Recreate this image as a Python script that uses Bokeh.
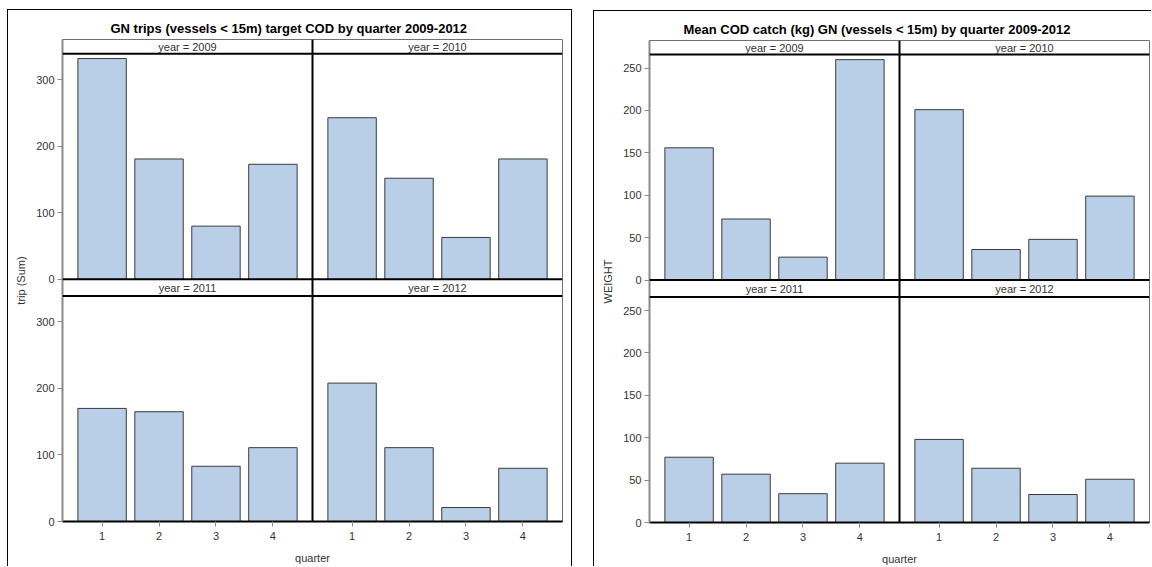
from bokeh.plotting import figure
from bokeh.layouts import row, column
from bokeh.models import Range1d, FixedTicker, Span, Label, Spacer
from bokeh.embed import file_html
from bokeh.resources import INLINE

# ---------------- data ----------------
quarters = [1, 2, 3, 4]
years = ["2009", "2010", "2011", "2012"]

trips_2009 = [332, 181, 80, 173]
trips_2010 = [243, 152, 63, 181]
trips_2011 = [170, 165, 83, 111]
trips_2012 = [208, 111, 21, 80]

weight_2009 = [156, 72, 27, 260]
weight_2010 = [201, 36, 48, 99]
weight_2011 = [77, 57, 34, 70]
weight_2012 = [98, 64, 33, 51]

trip_ticks = [0, 100, 200, 300]
weight_ticks = [0, 50, 100, 150, 200, 250]

FONT = "Liberation Sans"
BAR_FILL = "#b9cfe7"
BAR_LINE = "#3a3a3a"
GRAY = "#8a8a8a"
TXT = "#333333"


def make_chart(title, ylabel, series, ymax, ticks, border_left, border_top,
               border_bottom, border_right, title_offset):
    frame_w, frame_h = 500, 482
    panel_px, gap_px = 225.5, 16.6
    upp = ymax / panel_px
    top_off = round(ymax + gap_px * upp)
    yend = frame_h * upp
    shift = 4.39
    x0 = 0.305

    p = figure(frame_width=frame_w, frame_height=frame_h,
               x_range=Range1d(x0, x0 + 2 * shift), y_range=Range1d(0, yend),
               min_border_left=border_left, min_border_right=border_right,
               min_border_top=border_top, min_border_bottom=border_bottom,
               output_backend="svg", toolbar_location=None, title=title)
    p.title.text_font = FONT
    p.title.text_font_size = "13px"
    p.title.text_font_style = "bold"
    p.title.text_color = "#000000"
    p.title.align = "left"
    p.title.offset = title_offset
    p.title.standoff = 8
    p.grid.visible = False
    p.outline_line_color = "#707070"
    p.outline_line_width = 1
    p.background_fill_color = "white"
    p.border_fill_color = "white"

    # panels: (x shift, y offset, year label, values)
    panels = [
        (0.0, top_off, years[0], series[0]),
        (shift, top_off, years[1], series[1]),
        (0.0, 0, years[2], series[2]),
        (shift, 0, years[3], series[3]),
    ]
    for xs, yo, yr, vals in panels:
        p.vbar(x=[q + xs for q in quarters], width=0.85, bottom=yo,
               top=[v + yo for v in vals], fill_color=BAR_FILL,
               line_color=BAR_LINE, line_width=1)

    # panel separators
    for yloc in [ymax, top_off, top_off + ymax]:
        p.add_layout(Span(location=yloc, dimension="width",
                          line_color="black", line_width=2))
    p.add_layout(Span(location=x0 + shift, dimension="height",
                      line_color="black", line_width=2))

    # strip labels
    strip_y = [(top_off + ymax + yend) / 2, (ymax + top_off) / 2]
    for i, (xs, yo, yr, vals) in enumerate(panels):
        p.add_layout(Label(x=x0 + xs + shift / 2, y=strip_y[0 if i < 2 else 1],
                           text="year = " + yr, text_align="center",
                           text_baseline="middle", text_font=FONT,
                           text_font_size="11px", text_color=TXT))

    # x axis
    xt = [q + s for s in (0.0, shift) for q in quarters]
    p.xaxis.ticker = FixedTicker(ticks=xt)
    p.xaxis.major_label_overrides = {t: str(q) for t, q in zip(xt, quarters * 2)}
    p.xaxis.axis_label = "quarter"
    p.xaxis.axis_line_color = "black"
    p.xaxis.axis_line_width = 2

    # y axis
    yt = list(ticks) + [t + top_off for t in ticks]
    p.yaxis.ticker = FixedTicker(ticks=yt)
    p.yaxis.major_label_overrides = {t: str(v) for t, v in zip(yt, list(ticks) * 2)}
    p.yaxis.axis_label = ylabel
    p.yaxis.axis_line_color = GRAY
    p.yaxis.axis_line_width = 2

    for ax in (p.xaxis[0], p.yaxis[0]):
        ax.minor_tick_line_color = None
        ax.major_tick_in = 0
        ax.major_tick_out = 5
        ax.major_tick_line_color = GRAY
        ax.major_tick_line_width = 1
        ax.major_label_text_font = FONT
        ax.major_label_text_font_size = "11px"
        ax.major_label_text_color = TXT
        ax.major_label_standoff = 3
        ax.axis_label_text_font = FONT
        ax.axis_label_text_font_size = "11px"
        ax.axis_label_text_font_style = "normal"
        ax.axis_label_text_color = TXT
        ax.axis_label_standoff = 6
    p.xaxis.major_label_standoff = 5
    p.xaxis.axis_label_standoff = 9
    return p


def line(w, h):
    return Spacer(width=w, height=h, margin=0,
                  styles={"background-color": "#000000"})


left = make_chart("GN trips (vessels < 15m) target COD by quarter 2009-2012",
                  "trip (Sum)",
                  [trips_2009, trips_2010, trips_2011, trips_2012],
                  339, trip_ticks, border_left=54, border_top=29,
                  border_bottom=45, border_right=9, title_offset=48)

right = make_chart("Mean COD catch (kg) GN (vessels < 15m) by quarter 2009-2012",
                   "WEIGHT",
                   [weight_2009, weight_2010, weight_2011, weight_2012],
                   266, weight_ticks, border_left=55, border_top=29,
                   border_bottom=44, border_right=2, title_offset=34)

left_group = column(Spacer(width=565, height=2, margin=0), line(565, 1),
                    row(line(1, 556), left, line(1, 556), spacing=0),
                    spacing=0)
right_group = column(Spacer(width=558, height=3, margin=0), line(558, 1),
                     row(line(1, 555), right, spacing=0), spacing=0)

charts = row(left_group, Spacer(width=21, height=559, margin=0), right_group,
             spacing=0)
layout = column(Spacer(width=1151, height=7, margin=0),
                row(Spacer(width=7, height=559, margin=0), charts, spacing=0),
                spacing=0)

open("out.html", "w").write(file_html(layout, INLINE))
